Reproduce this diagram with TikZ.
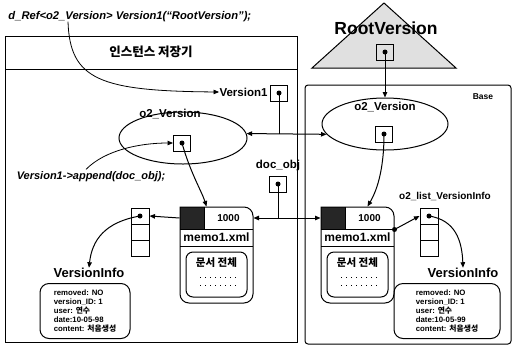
\documentclass[tikz,border=0pt]{standalone}
\usepackage{fontspec}
\setmainfont{Liberation Sans}
\newfontfamily\kr{Noto Sans CJK KR}
\usetikzlibrary{shapes.geometric,arrows.meta,calc}
\newcommand\memobox[2]{%
\begin{scope}[shift={(#1,207)}]
  \fill[black!85] (0,0) rectangle (24,22);
  \draw (0,0) -- (64,0) arc[start angle=90,end angle=0,radius=9pt] -- (73,87)
        arc[start angle=0,end angle=-90,radius=9pt] -- (9,96)
        arc[start angle=270,end angle=180,radius=9pt] -- cycle;
  \draw (0,22) -- (73,22);
  \draw (0,39) -- (73,39);
  \draw (24,0) -- (24,22);
  \node[inner sep=0pt, minimum width=73pt, minimum height=22pt] (#2top) at (36.5,11) {};
  \node[font=\bfseries\fontsize{10}{10}\selectfont] (#2num) at (48.5,11) {1000};
  \node[font=\bfseries\fontsize{12}{12}\selectfont] (#2name) at (36.5,30.5) {memo1.xml};
  \draw[rounded corners=7pt] (6,45) rectangle (67,90);
  \node[font=\kr\bfseries\fontsize{10.5}{10}\selectfont] (#2doc) at (36.5,56) {문서 전체};
  \draw[line width=0.7pt, dash pattern=on 0.8pt off 4.2pt] (20,70) -- (56,70);
  \draw[line width=0.7pt, dash pattern=on 0.8pt off 4.2pt] (20,78) -- (56,78);
\end{scope}}
\begin{document}
\begin{tikzpicture}[x=1pt,y=-1pt, line width=1pt,
  tip/.style={-{Triangle[length=5.5pt,width=4.5pt]}},
  dtip/.style={{Triangle[length=5.5pt,width=4.5pt]}-{Triangle[length=5.5pt,width=4.5pt]}},
  lbl/.style={font=\bfseries\fontsize{11.5}{12}\selectfont, inner sep=0pt},
  ptr/.style={draw, minimum width=17pt, minimum height=16pt, inner sep=0pt},
  dot/.style={circle, fill, inner sep=0pt, minimum size=5pt},
  oval/.style={draw, ellipse, minimum width=128pt, minimum height=52pt, inner sep=0pt},
  cell/.style={draw, minimum width=18pt, minimum height=16pt, inner sep=0pt},
  infobox/.style={draw, rounded corners=9pt, minimum width=90pt, minimum height=55pt,
     align=left, inner sep=2pt, anchor=north, font=\bfseries\fontsize{7.8}{9}\selectfont},
  infolbl/.style={font=\bfseries\fontsize{13}{13}\selectfont, inner sep=0pt}
]
\useasboundingbox (0,0) rectangle (514,349);

% containers
\draw (5,36) rectangle (297,342);
\draw (5,69) -- (297,69);
\node[font=\kr\bfseries\fontsize{12.5}{13}\selectfont] (hdr) at (151,52) {인스턴스 저장기};
\draw[rounded corners=3pt] (305,85) rectangle (511,344);
\node[font=\bfseries\fontsize{8.5}{9}\selectfont] (base) at (483,97) {Base};

% root version triangle
\draw[fill=black!12] (384,3) -- (312,68) -- (456,68) -- cycle;
\node[font=\bfseries\fontsize{17.5}{18}\selectfont, inner sep=0pt] (rv) at (386,28) {RootVersion};
\node[ptr] (rootsq) at (385,52) {};
\node[dot] (rootd) at (rootsq) {};

% code annotations
\node[font=\bfseries\itshape\fontsize{11.2}{12}\selectfont, anchor=west, inner sep=0pt] (code) at (8,17) {d\_Ref<o2\_Version> Version1(“RootVersion”);};
\node[font=\bfseries\itshape\fontsize{11}{12}\selectfont, inner sep=0pt] (app) at (91,177) {Version1->append(doc\_obj);};

% ellipses
\node[oval] (lell) at (183,138) {};
\node[lbl] (lellt) at (170,114) {o2\_Version};
\node[ptr] (lsq) at (182,143) {};
\node[dot] (lsqd) at (lsq) {};

\node[oval, minimum width=126pt] (rell) at (385,124) {};
\node[lbl] (rellt) at (385,107) {o2\_Version};
\node[ptr] (rsq) at (384,134) {};
\node[dot] (rsqd) at (rsq) {};

% Version1 pointer
\node[ptr] (v1sq) at (279,93) {};
\node[dot] (v1d) at (v1sq) {};
\node[lbl, anchor=east] (v1l) at (268,92) {Version1};

% doc_obj pointer
\node[ptr] (docsq) at (278,184) {};
\node[dot] (docd) at (docsq) {};
\node[lbl] (docl) at (278,166) {doc\_obj};

% memo documents
\memobox{180}{lm}
\memobox{321}{rm}
\node[dot] (rmc) at (rmtop.south east) {};

% version lists
\node[cell] (ll1) at (140,216) {};
\node[cell] (ll2) at (140,232) {};
\node[cell] (ll3) at (140,248) {};
\node[dot] (lld) at (ll1) {};
\node[cell] (rl1) at (429,216) {};
\node[cell] (rl2) at (429,232) {};
\node[cell] (rl3) at (429,248) {};
\node[dot] (rld) at (rl1) {};

% version info
\node[infolbl] (lvi) at (89,273) {VersionInfo};
\node[infobox] (lbox) at (85,283) {removed: NO\\ version\_ID: 1\\ user: {\kr 연수}\\ date:10-05-98\\ content: {\kr 처음생성}};
\node[infolbl] (rvi) at (463,273) {VersionInfo};
\node[infobox, minimum width=106pt] (rbox) at (447,283) {removed: NO\\ version\_ID: 1\\ user: {\kr 연수}\\ date:10-05-99\\ content: {\kr 처음생성}};

\node[lbl, font=\bfseries\fontsize{10}{10}\selectfont] (olist) at (445,196) {o2\_list\_VersionInfo};

% connectors
\draw[tip, line width=0.8pt] ($(code.south west)+(60,-1)$) .. controls (70,80) and (100,91) .. (v1l.west);
\draw[tip, line width=0.8pt] ($(app.north)+(-5,-2)$) .. controls (105,150) and (140,143) .. (lsq.west);
\draw (v1d.center) -- (v1d.center |- lell.4);
\draw[dtip] (lell.4) -- (rell.190);
\draw[tip] (rootd.center) -- (rell.north);
\draw (docd.center) -- (docd.center |- lmtop.east);
\draw[dtip] (lmtop.east) -- (rmtop.west);
\draw[tip] (lsqd.center) .. controls (190,172) and (202,192) .. ($(lmtop.north west)+(27,0)$);
\draw[tip] (rsqd.center) .. controls (384,172) and (376,192) .. ($(rmtop.north west)+(47,0)$);
\draw[tip] (lmtop.west) -- (ll1.east);
\draw[tip] (rmc.center) -- (rl1.west);
\draw[tip] (lld.center) .. controls (105,222) and (92,240) .. (lvi.north);
\draw[tip] (rld.center) .. controls (455,220) and (462,240) .. (rvi.north);
\end{tikzpicture}
\end{document}
